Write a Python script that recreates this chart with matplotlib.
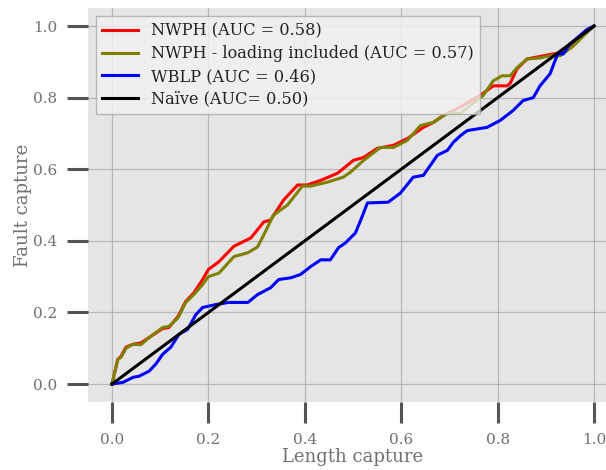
import matplotlib
matplotlib.use("Agg")
import matplotlib.pyplot as plt

# cumulative capture curves (length fraction -> fault fraction)
nwph_x = [0, 0.012, 0.019, 0.029, 0.043, 0.06, 0.077, 0.105, 0.118, 0.137, 0.153, 0.17,
          0.188, 0.2, 0.222, 0.253, 0.288, 0.315, 0.329, 0.356, 0.385, 0.405, 0.433, 0.468,
          0.501, 0.522, 0.55, 0.584, 0.613, 0.646, 0.667, 0.687, 0.716, 0.743, 0.764, 0.791,
          0.82, 0.826, 0.84, 0.861, 0.888, 0.915, 0.936, 0.944, 0.965, 0.985, 1.0]
nwph_y = [0, 0.069, 0.078, 0.103, 0.111, 0.115, 0.13, 0.155, 0.158, 0.189, 0.231, 0.255,
          0.292, 0.32, 0.342, 0.385, 0.408, 0.453, 0.458, 0.514, 0.556, 0.556, 0.569, 0.589,
          0.625, 0.633, 0.658, 0.667, 0.686, 0.717, 0.731, 0.75, 0.769, 0.79, 0.806, 0.833,
          0.833, 0.84, 0.88, 0.908, 0.915, 0.922, 0.925, 0.939, 0.96, 0.985, 1.0]

load_x = [0, 0.012, 0.019, 0.029, 0.043, 0.06, 0.077, 0.105, 0.118, 0.137, 0.153, 0.17,
          0.188, 0.2, 0.222, 0.253, 0.282, 0.302, 0.315, 0.335, 0.364, 0.395, 0.412, 0.447,
          0.48, 0.495, 0.522, 0.557, 0.584, 0.613, 0.64, 0.667, 0.695, 0.723, 0.743, 0.77,
          0.791, 0.809, 0.826, 0.84, 0.861, 0.888, 0.909, 0.93, 0.957, 0.98, 1.0]
load_y = [0, 0.069, 0.075, 0.1, 0.111, 0.11, 0.13, 0.158, 0.161, 0.185, 0.228, 0.25,
          0.278, 0.3, 0.31, 0.356, 0.367, 0.383, 0.417, 0.472, 0.5, 0.553, 0.553, 0.564,
          0.578, 0.592, 0.625, 0.661, 0.661, 0.681, 0.722, 0.731, 0.756, 0.756, 0.778, 0.806,
          0.847, 0.861, 0.861, 0.883, 0.908, 0.911, 0.917, 0.917, 0.944, 0.975, 1.0]

wblp_x = [0, 0.023, 0.044, 0.056, 0.077, 0.091, 0.105, 0.122, 0.139, 0.157, 0.174, 0.188,
          0.215, 0.242, 0.282, 0.302, 0.329, 0.346, 0.371, 0.391, 0.412, 0.433, 0.453, 0.47,
          0.484, 0.505, 0.516, 0.53, 0.573, 0.598, 0.625, 0.646, 0.675, 0.696, 0.708, 0.723,
          0.737, 0.778, 0.805, 0.832, 0.853, 0.874, 0.888, 0.909, 0.919, 0.925, 0.936, 0.95,
          0.965, 0.985, 1.0]
wblp_y = [0, 0.005, 0.019, 0.022, 0.036, 0.056, 0.083, 0.103, 0.139, 0.153, 0.194, 0.214,
          0.222, 0.228, 0.228, 0.25, 0.269, 0.292, 0.297, 0.306, 0.328, 0.347, 0.347, 0.381,
          0.394, 0.422, 0.458, 0.506, 0.508, 0.533, 0.578, 0.583, 0.639, 0.653, 0.675, 0.694,
          0.708, 0.717, 0.736, 0.764, 0.792, 0.8, 0.833, 0.867, 0.903, 0.922, 0.922, 0.95,
          0.967, 0.99, 1.0]

naive_x = [0, 1]
naive_y = [0, 1]

labels = ["NWPH (AUC = 0.58)", "NWPH - loading included (AUC = 0.57)",
          "WBLP (AUC = 0.46)", "Naïve (AUC= 0.50)"]
colors = ["red", "olive", "blue", "black"]

plt.rcParams["font.family"] = "DejaVu Serif"

fig = plt.figure(figsize=(6.06, 4.70), dpi=100)
ax = fig.add_axes([0.145, 0.1447, 0.875, 0.838])
ax.set_facecolor("#e5e5e5")

series = [(nwph_x, nwph_y), (load_x, load_y), (wblp_x, wblp_y), (naive_x, naive_y)]
for (xs, ys), lab, c in zip(series, labels, colors):
    ax.plot(xs, ys, color=c, lw=2.2, label=lab)

ax.set_xlim(-0.05, 1.05)
ax.set_ylim(-0.05, 1.05)
ax.set_xticks([0, 0.2, 0.4, 0.6, 0.8, 1.0])
ax.set_yticks([0, 0.2, 0.4, 0.6, 0.8, 1.0])
ax.grid(True, color="#a5a5a5", lw=0.9, alpha=0.7)
ax.set_axisbelow(True)
for s in ax.spines.values():
    s.set_visible(False)

ax.tick_params(direction="out", length=15, width=2.2, color="#555555",
               labelcolor="#707070", labelsize=11, pad=7)
ax.set_xlabel("Length capture", color="#707070", fontsize=13, labelpad=1)
ax.set_ylabel("Fault capture", color="#707070", fontsize=13, labelpad=1)

leg = ax.legend(loc="upper left", fontsize=11.6, facecolor="#f2f2f2",
                edgecolor="#aaaaaa", framealpha=0.8, fancybox=False,
                handlelength=2.2, borderaxespad=0.5, labelspacing=0.35)
for t in leg.get_texts():
    t.set_color("#222222")

fig.savefig("out.png", dpi=100)
